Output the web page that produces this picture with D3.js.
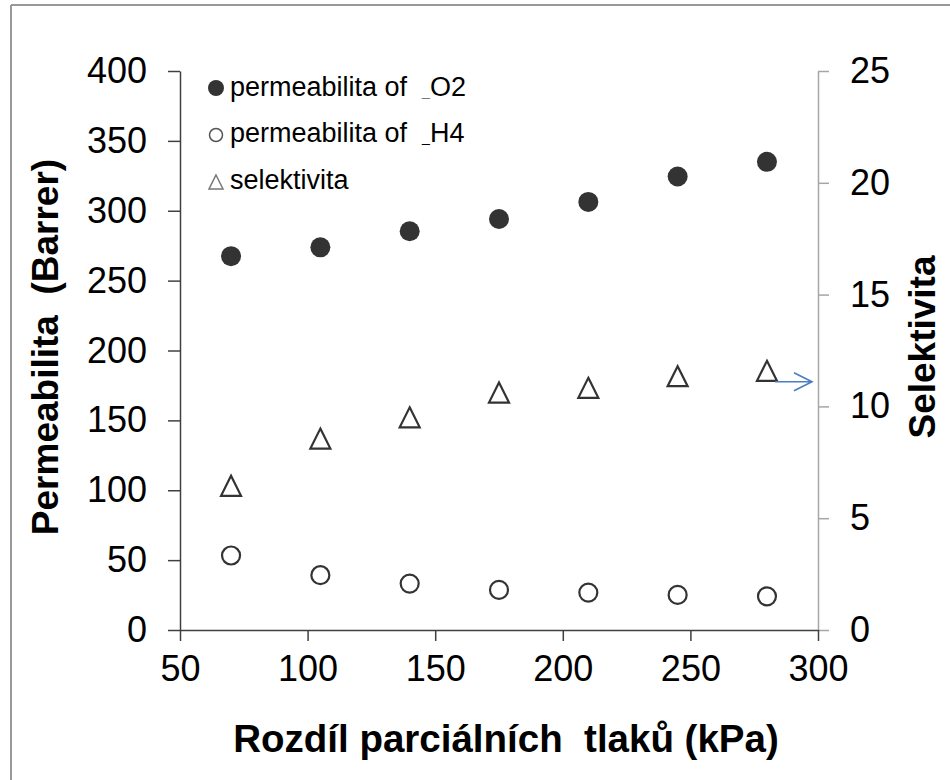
<!DOCTYPE html>
<html>
<head>
<meta charset="utf-8">
<script src="https://cdn.jsdelivr.net/npm/d3@7"></script>
<style>
  body { margin: 0; background: #fff; }
  svg { font-family: "Liberation Sans", Arial, sans-serif; }
  text { white-space: pre; }
</style>
</head>
<body>
<svg id="chart" width="950" height="780"></svg>
<script>
// data
var pressure = [70, 105, 140, 175, 210, 245, 280];            // kPa
var permCO2 = [267.5, 273.8, 285.3, 294.1, 306.3, 324.5, 335]; // Barrer
var permCH4 = [53.3, 39.2, 33.2, 28.7, 26.8, 25.1, 24.1];      // Barrer
var selectivity = [6.45, 8.56, 9.51, 10.62, 10.83, 11.35, 11.59];
var xTicks = [50, 100, 150, 200, 250, 300];
var yLeftTicks = [0, 50, 100, 150, 200, 250, 300, 350, 400];
var yRightTicks = [0, 5, 10, 15, 20, 25];
var arrowValue = 11.1; // where the blue arrow points on the right axis

var svg = d3.select("#chart");

// outer frame (only top and left edges show)
svg.append("line").attr("x1", 11).attr("x2", 11).attr("y1", 5).attr("y2", 780)
    .attr("stroke", "#999").attr("stroke-width", 2);
svg.append("line").attr("x1", 11).attr("x2", 950).attr("y1", 5).attr("y2", 5)
    .attr("stroke", "#999").attr("stroke-width", 2);

var x = d3.scaleLinear().domain([50, 300]).range([180, 818]);
var yL = d3.scaleLinear().domain([0, 400]).range([630, 71]);
var yR = d3.scaleLinear().domain([0, 25]).range([630, 71]);

// right axis (gray)
var gR = svg.append("g")
    .attr("transform", "translate(818,0)")
    .call(d3.axisRight(yR).tickValues(yRightTicks).tickSize(11).tickSizeOuter(0).tickPadding(21));
gR.select(".domain").attr("stroke", "#a6a6a6").attr("stroke-width", 1.5);
gR.selectAll(".tick line").attr("stroke", "#a6a6a6").attr("stroke-width", 1.5);

// left axis
var gL = svg.append("g")
    .attr("transform", "translate(180,0)")
    .call(d3.axisLeft(yL).tickValues(yLeftTicks).tickSize(12).tickSizeOuter(0).tickPadding(21));
gL.select(".domain").attr("stroke", "#404040").attr("stroke-width", 1.5);
gL.selectAll(".tick line").attr("stroke", "#404040").attr("stroke-width", 1.5);

// bottom axis
var gX = svg.append("g")
    .attr("transform", "translate(0,630)")
    .call(d3.axisBottom(x).tickValues(xTicks).tickSize(11).tickSizeOuter(0).tickPadding(14));
gX.select(".domain").attr("stroke", "#404040").attr("stroke-width", 1.5);
gX.selectAll(".tick line").attr("stroke", "#404040").attr("stroke-width", 1.5);

svg.selectAll(".tick text")
    .style("font-size", "36px")
    .style("font-family", "'Liberation Sans', Arial, sans-serif")
    .attr("fill", "#000");

// axis titles
svg.append("text")
    .text("Rozdíl parciálních  tlaků (kPa)")
    .attr("x", 506).attr("y", 752)
    .attr("text-anchor", "middle")
    .style("font-size", "38.5px").style("font-weight", "bold");

svg.append("text")
    .text("Permeabilita  (Barrer)")
    .attr("transform", "translate(58,347) rotate(-90)")
    .attr("text-anchor", "middle")
    .style("font-size", "37px").style("font-weight", "bold");

svg.append("text")
    .text("Selektivita")
    .attr("transform", "translate(935,347) rotate(-90)")
    .attr("text-anchor", "middle")
    .style("font-size", "37px").style("font-weight", "bold");

var markColor = "#333";

// triangle marker (width = height = s), centred on its box like Excel does
function tri(cx, cy, s) {
    return "M" + cx + "," + (cy - s / 2) +
        "L" + (cx + s / 2) + "," + (cy + s / 2) +
        "L" + (cx - s / 2) + "," + (cy + s / 2) + "Z";
}

// CH4 open circles
svg.selectAll(".ch4")
    .data(permCH4)
    .enter()
    .append("circle")
        .attr("cx", function(d, i) { return x(pressure[i]); })
        .attr("cy", function(d) { return yL(d); })
        .attr("r", 9)
        .attr("fill", "#fff")
        .attr("stroke", markColor)
        .attr("stroke-width", 2.2);

// selectivity triangles (right axis)
svg.selectAll(".sel")
    .data(selectivity)
    .enter()
    .append("path")
        .attr("d", function(d, i) { return tri(x(pressure[i]), yR(d), 20); })
        .attr("fill", "#fff")
        .attr("stroke", markColor)
        .attr("stroke-width", 2.2);

// CO2 filled circles
svg.selectAll(".co2")
    .data(permCO2)
    .enter()
    .append("circle")
        .attr("cx", function(d, i) { return x(pressure[i]); })
        .attr("cy", function(d) { return yL(d); })
        .attr("r", 10)
        .attr("fill", markColor);

// blue arrow pointing at the right axis
var ay = yR(arrowValue);
var ax1 = x(pressure[pressure.length - 1]) + 8, ax2 = x(300) - 6;
svg.append("path")
    .attr("d", "M" + ax1 + "," + ay + "L" + ax2 + "," + ay +
        "M" + (ax2 - 18) + "," + (ay - 9) + "L" + ax2 + "," + ay + "L" + (ax2 - 18) + "," + (ay + 9))
    .attr("fill", "none")
    .attr("stroke", "#4a7cc7")
    .attr("stroke-width", 1.6);

// legend
var lx = 216, textX = 230;
var rowY = [88, 135, 182];

svg.append("circle").attr("cx", lx).attr("cy", rowY[0]).attr("r", 8).attr("fill", markColor);
svg.append("circle").attr("cx", lx).attr("cy", rowY[1]).attr("r", 6.5)
    .attr("fill", "#fff").attr("stroke", "#555").attr("stroke-width", 1.5);
svg.append("path").attr("d", tri(lx, rowY[2], 14))
    .attr("fill", "#fff").attr("stroke", "#777").attr("stroke-width", 1.5);

var leg1 = svg.append("text").attr("x", textX).attr("y", rowY[0] + 8).style("font-size", "27px");
leg1.append("tspan").text("permeabilita of  ");
leg1.append("tspan").text("_").style("font-size", "14px").attr("fill", "#777");
leg1.append("tspan").text("O2");

var leg2 = svg.append("text").attr("x", textX).attr("y", rowY[1] + 7).style("font-size", "27px");
leg2.append("tspan").text("permeabilita of  ");
leg2.append("tspan").text("_").style("font-size", "14px");
leg2.append("tspan").text("H4");

svg.append("text").attr("x", textX).attr("y", rowY[2] + 7).style("font-size", "27px")
    .text("selektivita");
</script>
</body>
</html>
